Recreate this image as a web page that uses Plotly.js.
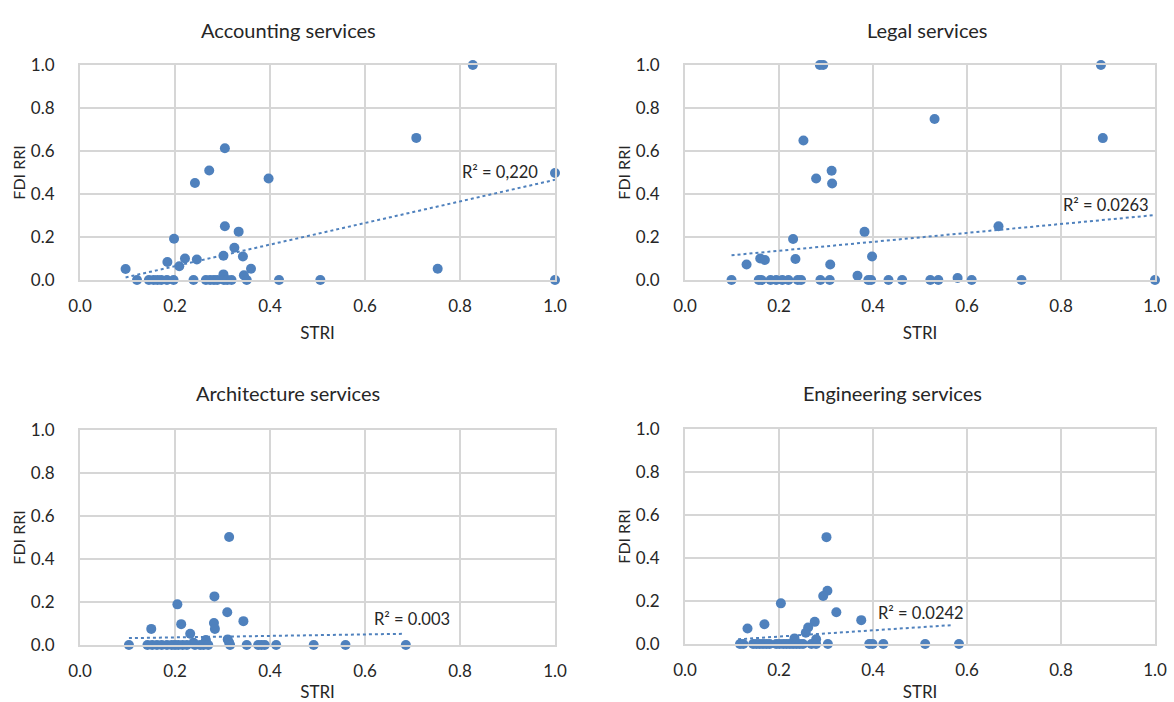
<!DOCTYPE html>
<html><head><meta charset="utf-8">
<script src="https://cdn.plot.ly/plotly-3.0.1.min.js"></script>
<style>body{margin:0;background:#fff}#c{width:1174px;height:702px}</style>
</head><body><div id="c"></div>
<script>
// Accounting services
const accX = [0.827,0.708,0.305,0.272,0.242,0.397,1.0,0.305,0.334,0.198,0.325,0.302,0.343,0.221,0.246,0.184,0.209,0.096,0.360,0.753,0.302,0.345,
  0.120,0.145,0.155,0.163,0.171,0.183,0.197,0.239,0.265,0.274,0.282,0.289,0.303,0.310,0.319,0.351,0.419,0.506,1.0];
const accY = [1.0,0.661,0.613,0.509,0.451,0.472,0.498,0.250,0.225,0.192,0.150,0.113,0.109,0.100,0.095,0.084,0.064,0.051,0.052,0.052,0.026,0.022,
  0,0,0,0,0,0,0,0,0,0,0,0,0,0,0,0,0,0,0];
const accTrendX = [0.096,1.0], accTrendY = [0.012,0.466];
// Legal services
const legX = [0.287,0.294,0.885,0.531,0.252,0.889,0.279,0.312,0.313,0.667,0.382,0.230,0.398,0.160,0.170,0.235,0.131,0.309,0.367,0.580,
  0.099,0.157,0.163,0.182,0.194,0.207,0.220,0.240,0.247,0.288,0.308,0.390,0.396,0.433,0.462,0.522,0.539,0.610,0.716,1.0];
const legY = [1.0,1.0,1.0,0.749,0.649,0.660,0.472,0.508,0.449,0.250,0.224,0.191,0.109,0.100,0.093,0.098,0.072,0.072,0.020,0.009,
  0,0,0,0,0,0,0,0,0,0,0,0,0,0,0,0,0,0,0,0];
const legTrendX = [0.099,1.0], legTrendY = [0.115,0.302];
// Architecture services
const arcX = [0.314,0.283,0.205,0.310,0.344,0.282,0.213,0.284,0.150,0.232,0.265,0.311,0.314,0.239,
  0.103,0.142,0.152,0.162,0.172,0.183,0.193,0.200,0.207,0.216,0.225,0.242,0.253,0.260,0.270,0.316,0.351,0.375,0.382,0.389,0.413,0.492,0.559,0.686];
const arcY = [0.502,0.226,0.189,0.152,0.111,0.102,0.097,0.075,0.075,0.052,0.023,0.026,0.011,0.010,
  0,0,0,0,0,0,0,0,0,0,0,0,0,0,0,0,0,0,0,0,0,0,0,0];
const arcTrendX = [0.103,0.679], arcTrendY = [0.032,0.052];
// Engineering services
const engX = [0.301,0.303,0.294,0.204,0.322,0.375,0.276,0.169,0.133,0.262,0.257,0.233,0.279,
  0.117,0.124,0.145,0.152,0.159,0.166,0.173,0.180,0.194,0.201,0.209,0.216,0.223,0.230,0.237,0.244,0.251,0.269,0.279,0.304,0.392,0.399,0.422,0.511,0.583];
const engY = [0.497,0.248,0.223,0.189,0.148,0.111,0.103,0.092,0.072,0.077,0.052,0.026,0.022,
  0,0,0,0,0,0,0,0,0,0,0,0,0,0,0,0,0,0,0,0,0,0,0,0,0];
const engTrendX = [0.113,0.569], engTrendY = [0.022,0.088];

const titles = ['Accounting services','Legal services','Architecture services','Engineering services'];
const r2Text = ['R² = 0,220','R² = 0.0263','R² = 0.003','R² = 0.0242'];
const r2X = [0.885,0.896,0.698,0.502], r2Y = [0.50,0.347,0.123,0.143];

const blue = '#4f81bd';
const FONT = 'Lato, "Open Sans", sans-serif';
const TXT = '#262626';
const sets = [[accX,accY,accTrendX,accTrendY],[legX,legY,legTrendX,legTrendY],[arcX,arcY,arcTrendX,arcTrendY],[engX,engY,engTrendX,engTrendY]];
const data = [];
sets.forEach((s,i)=>{
  const sfx = i===0?'':String(i+1);
  data.push({x:s[0],y:s[1],type:'scatter',mode:'markers',xaxis:'x'+sfx,yaxis:'y'+sfx,
    marker:{color:blue,size:10},cliponaxis:false,hoverinfo:'x+y'});
  data.push({x:s[2],y:s[3],type:'scatter',mode:'lines',xaxis:'x'+sfx,yaxis:'y'+sfx,
    line:{color:blue,width:2,dash:'dot'},cliponaxis:false});
});

const W=1174,H=702;
const px = [[80,555],[685,1155],[80,555],[685,1155]];
const py = [[65,280],[65,280],[430,645],[429,644]];
const layout = {width:W,height:H,margin:{l:0,r:0,t:0,b:0},showlegend:false,
  paper_bgcolor:'#fff',plot_bgcolor:'#fff',font:{family:FONT,size:17,color:TXT},annotations:[]};
const titleX=[288,928,288,892], titleY=[30,30,393,393];
px.forEach((p,i)=>{
  const sfx = i===0?'':String(i+1);
  layout['xaxis'+sfx] = {domain:[p[0]/W,p[1]/W],range:[0,1],dtick:0.2,tick0:0,tickformat:'.1f',
    showgrid:true,gridcolor:'#d6d6d6',gridwidth:2,zeroline:false,showline:true,linecolor:'#d6d6d6',linewidth:2,mirror:true,
    ticks:'',ticklabelstandoff:10,tickfont:{size:17,color:TXT,family:FONT},
    anchor:'y'+sfx,title:{text:'STRI',font:{size:17,color:TXT,family:FONT},standoff:12},fixedrange:true};
  layout['yaxis'+sfx] = {domain:[1-py[i][1]/H,1-py[i][0]/H],range:[0,1],dtick:0.2,tick0:0,tickformat:'.1f',
    showgrid:true,gridcolor:'#d6d6d6',gridwidth:2,zeroline:false,showline:true,linecolor:'#d6d6d6',linewidth:2,mirror:true,
    ticks:'',ticklabelstandoff:20,tickfont:{size:17,color:TXT,family:FONT},
    anchor:'x'+sfx,title:{text:'FDI RRI',font:{size:16,color:TXT,family:FONT},standoff:1},fixedrange:true};
  layout.annotations.push({text:titles[i],xref:'paper',yref:'paper',x:titleX[i]/W,y:1-titleY[i]/H,
    xanchor:'center',yanchor:'middle',showarrow:false,font:{size:20,color:TXT,family:FONT}});
  layout.annotations.push({text:r2Text[i],xref:'x'+sfx,yref:'y'+sfx,x:r2X[i],y:r2Y[i],
    xanchor:'center',yanchor:'middle',showarrow:false,font:{size:16.5,color:TXT,family:FONT}});
});
Plotly.newPlot('c',data,layout,{staticPlot:true});
</script></body></html>
